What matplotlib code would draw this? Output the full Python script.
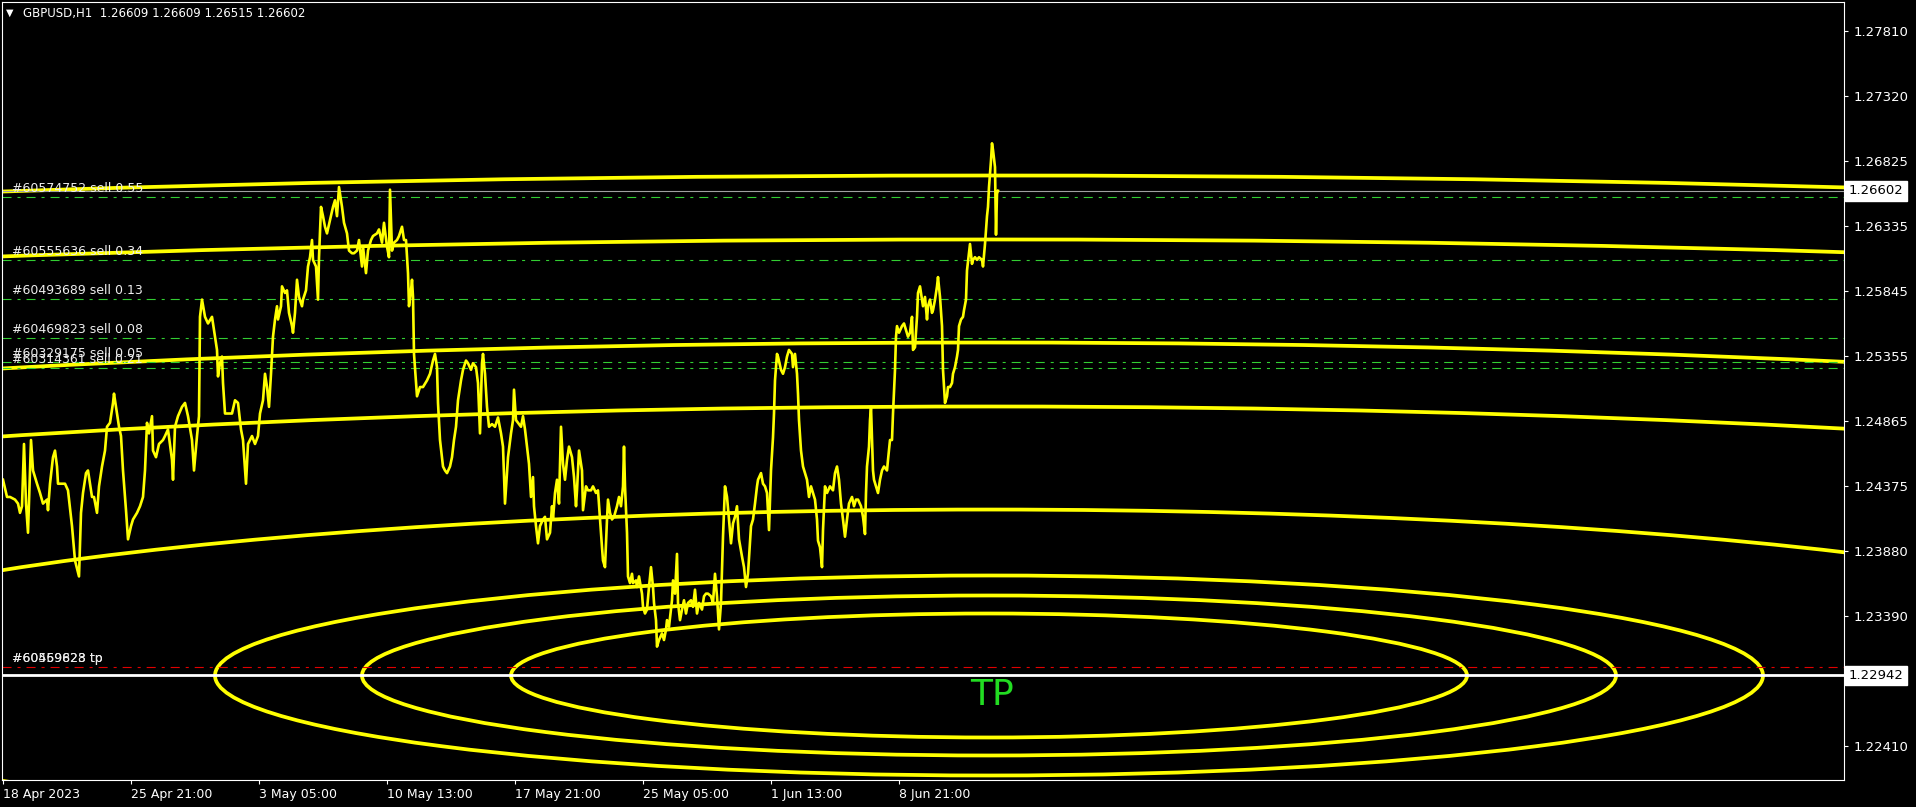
import matplotlib
matplotlib.use('Agg')
import matplotlib.pyplot as plt
from matplotlib.patches import Ellipse

# header of the MT4 window
symbol_line = 'GBPUSD,H1  1.26609 1.26609 1.26515 1.26602'

# H1 price path (bar index from 18 Apr 2023 13:00, price)
bars = [0, 4, 7, 12, 15, 17, 19, 21, 23, 25, 28, 30, 34, 37, 40, 44, 45, 47, 50, 52,
        54, 55, 59, 62, 65, 69, 72, 76, 78, 80, 83, 85, 89, 91, 94, 96, 99, 102, 104, 107,
        110, 111, 114, 116, 118, 120, 123, 125, 128, 130, 134, 137, 140, 142, 144, 146, 149, 150, 153, 156,
        160, 162, 165, 169, 170, 172, 175, 179, 182, 185, 189, 191, 194, 196, 197, 199, 202, 205, 209, 211,
        214, 215, 217, 219, 220, 222, 225, 229, 232, 235, 238, 240, 243, 245, 249, 252, 255,
        257, 260, 262, 264, 266, 268, 270, 272, 274, 275, 278, 279, 282, 284, 286, 289, 290, 292, 294,
        296, 299, 300, 303, 305, 307, 309, 310, 313, 315, 316, 318, 320, 322, 324, 327, 330, 332, 334, 336,
        339, 341, 344, 346, 349, 351, 354, 356, 359, 360, 363, 365, 368, 370, 374, 376, 379, 381, 384, 386,
        387, 389, 391, 394, 396, 399, 401, 403, 405, 406, 408, 409, 410, 411, 413, 414, 417, 420, 424, 427,
        430, 432, 434, 435, 437, 440, 442, 444, 447, 449, 451, 453, 455, 458, 460, 463, 465, 468, 470, 473,
        475, 477, 479, 480, 482, 484, 486, 489, 492, 495, 498, 500, 502, 504, 505,
        508, 510, 511, 513, 515, 518, 520, 522, 524, 526, 528, 530, 531, 533, 535, 537, 540, 542, 544, 547,
        549, 550, 552, 554, 556, 558, 560, 562, 564, 566, 569, 571, 573, 574, 576, 579, 580, 583, 585, 588,
        590, 593, 595, 597, 599, 600, 602, 604, 605, 607, 609, 611, 614, 616, 618, 620, 621, 622, 624, 625,
        627, 629, 630, 633, 634, 636, 639, 640, 642, 644, 646, 648, 650, 651, 653, 654, 656, 659, 661, 663,
        664, 666, 669, 670, 672, 674, 675, 677, 679, 681, 683, 685, 688, 690, 692, 694, 696, 699, 701, 703,
        705, 708, 710, 712, 714, 716, 718, 720, 722, 724, 726, 728, 730, 732, 734, 736, 739, 741, 743, 745,
        748, 750, 752, 754, 755, 758, 760, 762, 764, 766, 768, 770, 771, 772, 774, 775, 778, 780, 782, 784,
        786, 789, 790, 792, 794, 795, 796, 798, 800, 802, 804, 806, 808, 810, 812, 814, 815, 817, 819, 820,
        822, 824, 827, 830, 832, 834, 836, 838, 840, 842, 844, 846, 849, 851, 853, 855, 858, 860, 862, 863,
        864, 866, 867, 868, 870, 871, 873, 875, 877, 879, 881, 884, 885, 887, 889, 890, 892, 893, 894, 896,
        899, 901, 903, 905, 907, 909, 910, 912, 914, 915, 917, 919, 920, 922, 924, 925, 927, 929, 930, 932,
        934, 935, 937, 939, 940, 942, 944, 945, 947, 949, 950, 952, 954, 955, 956, 958, 960, 961, 963, 964,
        966, 967, 969, 970, 972, 974, 976, 979, 980, 982, 984, 985, 986, 988, 989, 990, 992, 993, 994, 995]
prices = [1.2442, 1.2429, 1.2429, 1.2427, 1.2424, 1.2417, 1.2422, 1.2469, 1.2424, 1.2402, 1.2472, 1.2449, 1.2439, 1.2432, 1.2424, 1.2427, 1.2419, 1.2439, 1.2459, 1.2464,
          1.2452, 1.2439, 1.2439, 1.2439, 1.2434, 1.2407, 1.2381, 1.2369, 1.2417, 1.2432, 1.2447, 1.2449, 1.2429, 1.2429, 1.2417, 1.2437, 1.2452, 1.2464, 1.2482, 1.2485,
          1.2500, 1.2507, 1.2492, 1.2482, 1.2475, 1.2449, 1.2419, 1.2397, 1.2407, 1.2412, 1.2417, 1.2422, 1.2429, 1.2449, 1.2485, 1.2477, 1.2490, 1.2464, 1.2459, 1.2469,
          1.2472, 1.2475, 1.2480, 1.2457, 1.2442, 1.2482, 1.2490, 1.2497, 1.2500, 1.2490, 1.2472, 1.2449, 1.2475, 1.2490, 1.2565, 1.2578, 1.2565, 1.2560, 1.2565, 1.2555,
          1.2540, 1.2520, 1.2530, 1.2535, 1.2515, 1.2492, 1.2492, 1.2492, 1.2502, 1.2500, 1.2480, 1.2472, 1.2439, 1.2469, 1.2475, 1.2469, 1.2475,
          1.2492, 1.2502, 1.2522, 1.2512, 1.2497, 1.2522, 1.2550, 1.2563, 1.2573, 1.2563, 1.2573, 1.2588, 1.2583, 1.2585, 1.2568, 1.2558, 1.2553, 1.2568, 1.2593,
          1.2580, 1.2573, 1.2578, 1.2585, 1.2603, 1.2610, 1.2623, 1.2608, 1.2603, 1.2578, 1.2610, 1.2648, 1.2641, 1.2633, 1.2628, 1.2638, 1.2648, 1.2653, 1.2641, 1.2663,
          1.2648, 1.2636, 1.2628, 1.2615, 1.2613, 1.2613, 1.2615, 1.2623, 1.2603, 1.2618, 1.2598, 1.2615, 1.2623, 1.2626, 1.2628, 1.2631, 1.2621, 1.2636, 1.2618, 1.2610,
          1.2661, 1.2615, 1.2621, 1.2623, 1.2626, 1.2633, 1.2623, 1.2623, 1.2598, 1.2573, 1.2585, 1.2593, 1.2580, 1.2537, 1.2515, 1.2505, 1.2512, 1.2512, 1.2517, 1.2522,
          1.2532, 1.2537, 1.2527, 1.2500, 1.2472, 1.2452, 1.2449, 1.2447, 1.2452, 1.2459, 1.2472, 1.2482, 1.2502, 1.2517, 1.2525, 1.2532, 1.2530, 1.2525, 1.2530, 1.2527,
          1.2515, 1.2477, 1.2530, 1.2537, 1.2522, 1.2497, 1.2482, 1.2484, 1.2482, 1.2489, 1.2477, 1.2467, 1.2424, 1.2447, 1.2459,
          1.2477, 1.2487, 1.2510, 1.2487, 1.2485, 1.2482, 1.2490, 1.2480, 1.2467, 1.2454, 1.2429, 1.2444, 1.2422, 1.2407, 1.2394, 1.2407, 1.2412, 1.2414, 1.2397, 1.2402,
          1.2422, 1.2412, 1.2432, 1.2442, 1.2424, 1.2482, 1.2454, 1.2442, 1.2457, 1.2467, 1.2459, 1.2444, 1.2422, 1.2434, 1.2464, 1.2449, 1.2419, 1.2437, 1.2434, 1.2434,
          1.2437, 1.2432, 1.2434, 1.2412, 1.2391, 1.2381, 1.2376, 1.2412, 1.2427, 1.2417, 1.2412, 1.2414, 1.2422, 1.2429, 1.2422, 1.2437, 1.2467, 1.2437, 1.2402, 1.2369,
          1.2364, 1.2371, 1.2364, 1.2366, 1.2361, 1.2369, 1.2356, 1.2346, 1.2341, 1.2344, 1.2361, 1.2376, 1.2361, 1.2349, 1.2336, 1.2316, 1.2321, 1.2326, 1.2321, 1.2329,
          1.2336, 1.2331, 1.2351, 1.2366, 1.2356, 1.2386, 1.2349, 1.2336, 1.2344, 1.2351, 1.2341, 1.2349, 1.2351, 1.2346, 1.2359, 1.2341, 1.2349, 1.2344, 1.2354, 1.2356,
          1.2356, 1.2354, 1.2349, 1.2371, 1.2354, 1.2329, 1.2349, 1.2399, 1.2437, 1.2429, 1.2412, 1.2394, 1.2409, 1.2414, 1.2422, 1.2397, 1.2384, 1.2376, 1.2361, 1.2371,
          1.2407, 1.2412, 1.2424, 1.2437, 1.2442, 1.2447, 1.2439, 1.2437, 1.2432, 1.2404, 1.2449, 1.2474, 1.2492, 1.2517, 1.2537, 1.2535, 1.2525, 1.2522, 1.2527, 1.2535,
          1.2540, 1.2537, 1.2527, 1.2537, 1.2522, 1.2507, 1.2487, 1.2464, 1.2452, 1.2447, 1.2442, 1.2429, 1.2437, 1.2432, 1.2427, 1.2412, 1.2396, 1.2391, 1.2376, 1.2404,
          1.2437, 1.2432, 1.2437, 1.2434, 1.2447, 1.2452, 1.2442, 1.2424, 1.2412, 1.2399, 1.2412, 1.2424, 1.2429, 1.2422, 1.2427, 1.2427, 1.2422, 1.2414, 1.2401, 1.2432,
          1.2452, 1.2467, 1.2487, 1.2497, 1.2449, 1.2442, 1.2437, 1.2432, 1.2442, 1.2449, 1.2452, 1.2449, 1.2457, 1.2472, 1.2472, 1.2492, 1.2525, 1.2550, 1.2558, 1.2553,
          1.2558, 1.2560, 1.2555, 1.2550, 1.2553, 1.2565, 1.2540, 1.2542, 1.2565, 1.2583, 1.2588, 1.2578, 1.2573, 1.2580, 1.2563, 1.2573, 1.2578, 1.2568, 1.2570, 1.2578,
          1.2588, 1.2595, 1.2580, 1.2558, 1.2525, 1.2500, 1.2505, 1.2512, 1.2512, 1.2515, 1.2522, 1.2527, 1.2535, 1.2540, 1.2558, 1.2563, 1.2565, 1.2570, 1.2578, 1.2600,
          1.2613, 1.2620, 1.2605, 1.2608, 1.2610, 1.2608, 1.2610, 1.2608, 1.2603, 1.2620, 1.2641, 1.2648, 1.2663, 1.2683, 1.2696, 1.2691, 1.2678, 1.2627, 1.2658, 1.26602]

# axis ticks
ytick_vals = [1.27810, 1.27320, 1.26825, 1.26335, 1.25845, 1.25355, 1.24865, 1.24375, 1.23880, 1.23390, 1.22410]
xtick_bars = [0, 128, 256, 384, 512, 640, 768, 896]
xtick_labels = ['18 Apr 2023', '25 Apr 21:00', '3 May 05:00', '10 May 13:00',
                '17 May 21:00', '25 May 05:00', '1 Jun 13:00', '8 Jun 21:00']

# open orders
order_labels = ['#60574752 sell 0.55', '#60555636 sell 0.34', '#60493689 sell 0.13',
                '#60469823 sell 0.08', '#60329175 sell 0.05', '#60314361 sell 0.21']
order_prices = [1.26552, 1.26079, 1.25785, 1.25488, 1.25311, 1.25266]
tp_labels = ['#60459628 tp', '#60569823 tp']
tp_price = 1.23004
bid_price = 1.26602
level_price = 1.22942

# ellipses around the TP level (semi axes: bars, price)
ell_center = (986, 1.22942)
ell_half_bars = [478, 627, 774, 1277, 2153, 2553, 3576, 3940]
ell_half_price = [0.00468, 0.00604, 0.00755, 0.01253, 0.02031, 0.02514, 0.03292, 0.03775]

plt.rcParams['lines.scale_dashes'] = False
fig = plt.figure(figsize=(19.16, 8.07), dpi=100, facecolor='black')
ax = fig.add_axes([2 / 1916, 27 / 807, 1842 / 1916, 778 / 807], facecolor='black')

# order lines (green dash-dot) and labels
for lbl, p in zip(order_labels, order_prices):
    ax.axhline(p, color='#32CD32', lw=0.8, dashes=(6.5, 4.3, 2.2, 4.3))
    ax.annotate(lbl, (9, p), xytext=(0, 1.5), textcoords='offset points',
                color='#EEEEEE', fontsize=9, va='bottom', ha='left')

ax.axhline(tp_price, color='#E00000', lw=0.8, dashes=(6.5, 4.3, 2.2, 4.3))
for lbl in tp_labels:
    ax.annotate(lbl, (9, tp_price), xytext=(0, 1.5), textcoords='offset points',
                color='#EEEEEE', fontsize=9, va='bottom', ha='left')
ax.axhline(bid_price, color='#A0A0A0', lw=0.8)
ax.axhline(level_price, color='white', lw=2.0)

# ellipses
for a, b in zip(ell_half_bars, ell_half_price):
    ax.add_patch(Ellipse(ell_center, 2 * a, 2 * b, fill=False, ec='#FFFF00', lw=2.7))

# price
ax.plot(bars, prices, color='#FFFF00', lw=1.9)

ax.text(989, 1.22795, 'TP', color='#22DD22', fontsize=26, ha='center', va='center')

ax.set_xlim(-1, 1841)
ax.set_ylim(1.22153, 1.28027)

ax.yaxis.tick_right()
ax.set_yticks(ytick_vals)
ax.set_yticklabels(['%.5f' % v for v in ytick_vals])
ax.set_xticks(xtick_bars)
ax.set_xticklabels(xtick_labels)
for lab in ax.get_xticklabels():
    lab.set_ha('left')
ax.tick_params(colors='white', labelsize=9, length=3, width=0.8, direction='out')
ax.tick_params(axis='y', labelsize=9.5, pad=4)
ax.tick_params(axis='x', pad=3)
for s in ax.spines.values():
    s.set_color('white')
    s.set_linewidth(0.8)

# price tags on the right scale
for p in [bid_price, level_price]:
    ax.text(1.0025, p, '%.5f' % p, transform=ax.get_yaxis_transform(), color='black',
            fontsize=9.5, va='center', ha='left',
            bbox=dict(boxstyle='square,pad=0.25', fc='white', ec='white'))

fig.text(6 / 1916, 1 - 13 / 807, '\u25bc', color='white', fontsize=7, va='center')
fig.text(23 / 1916, 1 - 13 / 807, symbol_line, color='white', fontsize=8.5, va='center')

fig.savefig('out.png', dpi=100, facecolor='black')
